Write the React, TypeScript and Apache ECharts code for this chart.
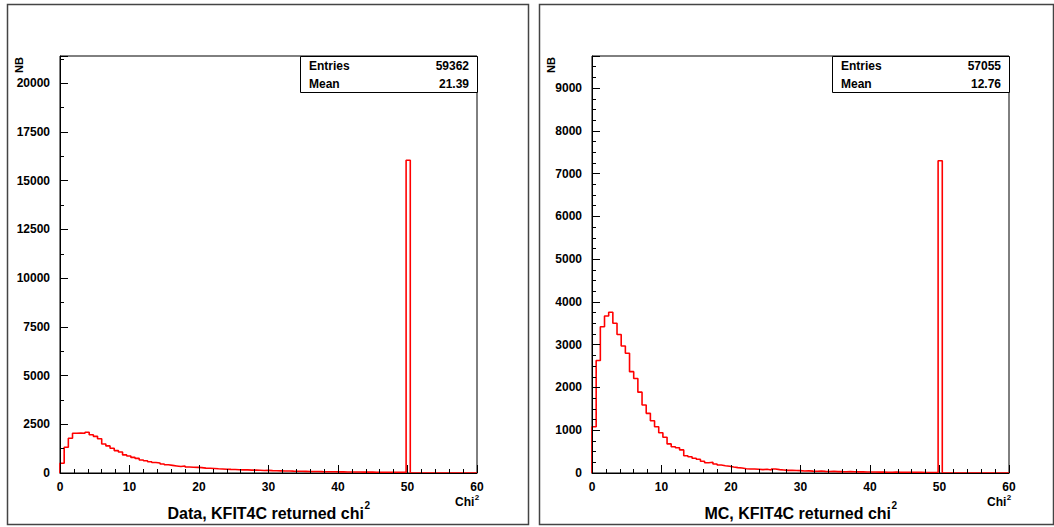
import React, { useEffect, useRef } from 'react';
import * as echarts from 'echarts';

// Histogram: 100 bins of width 0.6 over [0, 60]
const BIN_WIDTH = 0.6;

const dataCounts = [
  500, 1320, 1780, 2040, 2050, 2040, 2090, 1960, 1880, 1760,
  1490, 1390, 1270, 1150, 1080, 930, 870, 800, 750, 670,
  630, 580, 540, 510, 460, 420, 390, 360, 330, 360,
  310, 295, 290, 275, 250, 240, 230, 215, 205, 195,
  185, 180, 170, 160, 160, 150, 145, 140, 130, 135,
  120, 115, 110, 105, 100, 95, 92, 88, 85, 80,
  78, 74, 70, 68, 65, 62, 60, 58, 55, 53,
  50, 50, 47, 45, 44, 42, 40, 38, 38, 36,
  35, 33, 32, 16050, 0, 0, 0, 0, 0, 0,
  0, 0, 0, 0, 0, 0, 0, 0, 0, 0,
];

const mcCounts = [
  1080, 2630, 3420, 3670, 3760, 3500, 3240, 2970, 2800, 2370,
  2210, 1890, 1590, 1395, 1220, 1080, 940, 835, 680, 615,
  590, 540, 405, 380, 345, 320, 275, 240, 250, 210,
  187, 171, 156, 140, 125, 117, 101, 94, 94, 86,
  78, 86, 70, 94, 78, 70, 62, 62, 58, 55,
  47, 50, 44, 42, 45, 38, 36, 40, 33, 31,
  30, 34, 28, 26, 30, 24, 25, 22, 20, 24,
  19, 18, 20, 17, 16, 18, 15, 14, 16, 13,
  12, 13, 11, 7300, 0, 0, 0, 0, 0, 0,
  0, 0, 0, 0, 0, 0, 0, 0, 0, 0,
];

const xTickValues = [0, 10, 20, 30, 40, 50, 60];
const statsLabels = ['Entries', 'Mean'];
const dataStats = ['59362', '21.39'];
const mcStats = ['57055', '12.76'];
const titles = ['Data, KFIT4C returned chi', 'MC, KFIT4C returned chi'];
const yAxisName = 'NB';
const xAxisName = 'Chi';

const FONT = '"Liberation Sans", Arial, Helvetica, sans-serif';

function measure(text: string, font: string): number {
  const c = document.createElement('canvas');
  const ctx = c.getContext('2d')!;
  ctx.font = font;
  return ctx.measureText(text).width;
}

function histPoints(counts: number[]): number[][] {
  const pts: number[][] = [[0, 0]];
  counts.forEach((c, i) => pts.push([i * BIN_WIDTH, c]));
  pts.push([counts.length * BIN_WIDTH, 0]);
  return pts;
}

function txt(x: number, y: number, text: string, size: number, align = 'left', vAlign = 'middle', rotation = 0) {
  return {
    type: 'text',
    x,
    y,
    rotation,
    z: 100,
    style: {
      text,
      fill: '#000',
      font: `bold ${size}px ${FONT}`,
      textAlign: align,
      align,
      textVerticalAlign: vAlign,
      verticalAlign: vAlign,
    },
  };
}

export default function App() {
  const ref = useRef<HTMLDivElement>(null);

  useEffect(() => {
    const chart = echarts.init(ref.current!, null, { renderer: 'svg' });

    const panels = [
      { off: 0, counts: dataCounts, yMax: 21400, yInterval: 2500, yMinor: 2, stats: dataStats, title: titles[0], frameW: 521 },
      { off: 532, counts: mcCounts, yMax: 9750, yInterval: 1000, yMinor: 4, stats: mcStats, title: titles[1], frameW: 514 },
    ];

    const PLOT_L = 60, PLOT_T = 56, PLOT_W = 417, PLOT_H = 417;

    const grids: any[] = [];
    const xAxes: any[] = [];
    const yAxes: any[] = [];
    const series: any[] = [];
    const graphics: any[] = [];

    const labelStyle = { color: '#000', fontWeight: 'bold', fontSize: 12, fontFamily: FONT };

    panels.forEach((p, i) => {
      grids.push({
        left: PLOT_L + p.off, top: PLOT_T, width: PLOT_W, height: PLOT_H,
        show: true, borderColor: '#000', borderWidth: 1, backgroundColor: 'transparent',
      });
      xAxes.push({
        gridIndex: i, type: 'value', min: 0, max: 60, interval: 10, z: 5,
        axisLine: { onZero: false, lineStyle: { color: '#000', width: 1 } },
        axisTick: { inside: true, length: 8, lineStyle: { color: '#000' } },
        minorTick: { show: true, splitNumber: 5, length: 4, lineStyle: { color: '#000' } },
        splitLine: { show: false },
        minorSplitLine: { show: false },
        axisLabel: { ...labelStyle, margin: 8, formatter: (v: number) => (xTickValues.includes(v) ? String(v) : '') },
      });
      yAxes.push({
        gridIndex: i, type: 'value', min: 0, max: p.yMax, interval: p.yInterval, z: 5,
        axisLine: { onZero: false, lineStyle: { color: '#000', width: 1 } },
        axisTick: { inside: true, length: 8, lineStyle: { color: '#000' } },
        minorTick: { show: true, splitNumber: p.yMinor, length: 4, lineStyle: { color: '#000' } },
        splitLine: { show: false },
        minorSplitLine: { show: false },
        axisLabel: { ...labelStyle, margin: 10, showMaxLabel: false, formatter: (v: number) => String(v) },
      });
      series.push({
        type: 'line', xAxisIndex: i, yAxisIndex: i, step: 'end',
        data: histPoints(p.counts), showSymbol: false, symbol: 'none', clip: true,
        lineStyle: { color: '#ff0000', width: 1.6 }, z: 2,
      });

      // canvas pad frame
      graphics.push({
        type: 'rect', z: 1,
        shape: { x: 7.5 + p.off, y: 4.5, width: p.frameW, height: 520 },
        style: { fill: 'none', stroke: '#444', lineWidth: 1.5 },
      });
      // stats box
      const bx = 300 + p.off;
      graphics.push({
        type: 'rect', z: 50,
        shape: { x: bx + 0.5, y: PLOT_T + 0.5, width: 177, height: 36 },
        style: { fill: '#fff', stroke: '#000', lineWidth: 1 },
      });
      graphics.push(txt(bx + 9, 66, statsLabels[0], 12));
      graphics.push(txt(bx + 169, 66, p.stats[0], 12, 'right'));
      graphics.push(txt(bx + 9, 84, statsLabels[1], 12));
      graphics.push(txt(bx + 169, 84, p.stats[1], 12, 'right'));

      // y axis name
      graphics.push(txt(19 + p.off, 65, yAxisName, 11, 'center', 'middle', Math.PI / 2));

      // x axis name with superscript
      graphics.push(txt(455 + p.off, 502, xAxisName, 12));
      const wChi = measure(xAxisName, `bold 12px ${FONT}`);
      graphics.push(txt(455 + p.off + wChi + 0.5, 497, '2', 8));

      // title with superscript
      const tFont = `bold 16px ${FONT}`;
      const wT = measure(p.title, tFont);
      const wS = measure('2', `bold 10px ${FONT}`);
      const cx = 268.5 + p.off;
      const x0 = cx - (wT + wS) / 2;
      graphics.push(txt(x0, 513, p.title, 16));
      graphics.push(txt(x0 + wT + 0.5, 505, '2', 10));
    });

    chart.setOption({
      animation: false,
      backgroundColor: '#fff',
      grid: grids,
      xAxis: xAxes,
      yAxis: yAxes,
      series,
      graphic: { elements: graphics },
    });

    return () => chart.dispose();
  }, []);

  return (
    <div
      ref={ref}
      style={{ position: 'absolute', left: 0, top: 0, width: 1054, height: 527, background: '#fff' }}
    />
  );
}
